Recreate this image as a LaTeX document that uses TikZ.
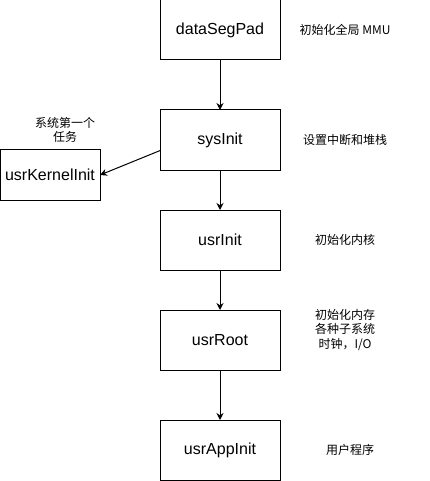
\documentclass[tikz,border=0pt]{standalone}
\usepackage{fontspec}
\setmainfont{Liberation Sans}
\newfontfamily\cjk{Noto Sans CJK SC}
\usetikzlibrary{positioning,arrows.meta}

\tikzset{
  stage/.style={draw, line width=1pt, minimum width=120pt, minimum height=60pt,
    inner sep=0pt, outer sep=0pt, font=\fontsize{16}{19}\selectfont},
  note/.style={align=center, inner sep=0pt, font=\cjk\fontsize{12}{14.5}\selectfont},
  flow/.style={-{Stealth[length=7pt,width=7pt]}, line width=1pt},
}

\begin{document}
\begin{tikzpicture}[x=1pt, y=-1pt]
  \useasboundingbox (0,0) rectangle (429,481);
  \node [stage] (dsp) at (220,30) {dataSegPad};
  \node [stage, below=50pt of dsp] (sys) {sysInit};
  \node [stage, minimum width=100pt, minimum height=50pt] (uki) at (50,175) {usrKernelInit};
  \node [stage, below=40pt of sys] (ui) {usrInit};
  \node [stage, below=40pt of ui] (ur) {usrRoot};
  \node [stage, below=50pt of ur] (uai) {usrAppInit};
  % notes beside the stages
  \node [note] (ndsp) at (345,30) {初始化全局 MMU};
  \node [note] (nsys) at (345,140) {设置中断和堆栈};
  \node [note] (nuki) at (65,130) {系统第一个\\任务};
  \node [note] (nui) at (345,240) {初始化内核};
  \node [note] (nur) at (345,330) {初始化内存\\各种子系统\\时钟，I/O};
  \node [note] (nuai) at (350,450) {用户程序};
  % boot order
  \draw [flow] (dsp) -- (sys);
  \draw [flow] (sys) -- (ui);
  \draw [flow] (ui) -- (ur);
  \draw [flow] (ur) -- (uai);
  \draw [flow] (sys.190) -- (uki.east);
\end{tikzpicture}
\end{document}
